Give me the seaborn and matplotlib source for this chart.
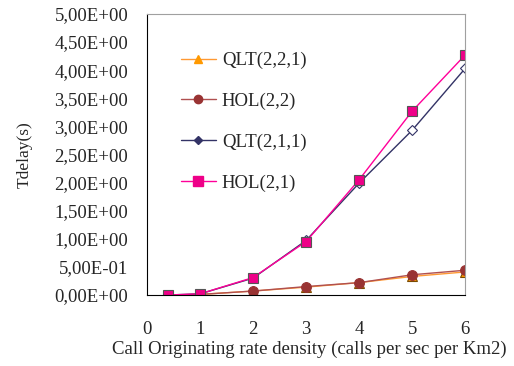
import pandas as pd
import matplotlib.pyplot as plt
import matplotlib.ticker as mticker
from matplotlib.lines import Line2D
import seaborn as sns

# values
rate = [0.4, 1, 2, 3, 4, 5, 6]
qlt_221 = [0.0, 0.01, 0.07, 0.14, 0.22, 0.33, 0.41]
hol_22 = [0.0, 0.01, 0.07, 0.15, 0.22, 0.36, 0.44]
qlt_211 = [0.0, 0.02, 0.30, 0.97, 1.99, 2.93, 4.03]
hol_21 = [0.0, 0.02, 0.31, 0.95, 2.05, 3.27, 4.27]
yticks = [0, 0.5, 1, 1.5, 2, 2.5, 3, 3.5, 4, 4.5, 5]

data = pd.DataFrame({'rate': rate, 'QLT(2,2,1)': qlt_221, 'HOL(2,2)': hol_22,
                     'QLT(2,1,1)': qlt_211, 'HOL(2,1)': hol_21})

sns.set_style('white')
plt.rcParams['font.family'] = ['Liberation Serif', 'DejaVu Serif']

fig = plt.figure(figsize=(5.14, 3.66), dpi=100)
ax = fig.add_axes([0.286, 0.194, 0.619, 0.768])

# (column, line colour, marker, face, edge, size)
styles = [
    ('QLT(2,2,1)', '#FF9933', '^', '#FF9900', '#7a4a00', 7),
    ('HOL(2,2)', '#B05050', 'o', '#993333', '#993333', 7),
    ('QLT(2,1,1)', '#333366', 'D', 'white', '#333366', 5),
    ('HOL(2,1)', '#FF0099', 's', '#EE0088', '#555555', 7.5),
]
handles = []
for col, lc, mk, fc, ec, ms in styles:
    sns.lineplot(data=data, x='rate', y=col, ax=ax, color=lc, linewidth=1.0,
                 marker=mk, markersize=ms, markerfacecolor=fc,
                 markeredgecolor=ec, markeredgewidth=0.8)
    handles.append(Line2D([], [], color=lc, linewidth=1.0, marker=mk,
                          markersize=ms - 1, markerfacecolor=ec if fc == 'white' else fc,
                          markeredgecolor=ec if fc == 'white' else fc, label=col))

ax.set_xlim(0, 6)
ax.set_ylim(0, 5)
ax.set_xticks(range(7))
ax.set_yticks(yticks)
ax.yaxis.set_major_formatter(mticker.FuncFormatter(
    lambda v, p: ('%.2E' % v).replace('.', ',')))
ax.tick_params(axis='both', direction='out', length=5, width=0.8,
               labelsize=13.5, color='black')
ax.tick_params(axis='y', pad=8.5)
ax.tick_params(axis='x', pad=14)
ax.set_xlabel('Call Originating rate density (calls per sec per Km2)', fontsize=13.5)
ax.set_ylabel('Tdelay(s)', fontsize=12.5)
ax.xaxis.set_label_coords(0.511, -0.164)
ax.yaxis.set_label_coords(-0.358, 0.5)

for s in ['left', 'bottom']:
    ax.spines[s].set_color('black')
    ax.spines[s].set_linewidth(0.8)
for s in ['top', 'right']:
    ax.spines[s].set_color('#A0A0A0')
    ax.spines[s].set_linewidth(0.8)

ax.legend(handles=handles, loc='upper left', bbox_to_anchor=(0.053, 0.925),
          frameon=False, fontsize=13.5, labelspacing=1.26, handlelength=1.87,
          handletextpad=0.32)

plt.savefig('out.png', dpi=100)
